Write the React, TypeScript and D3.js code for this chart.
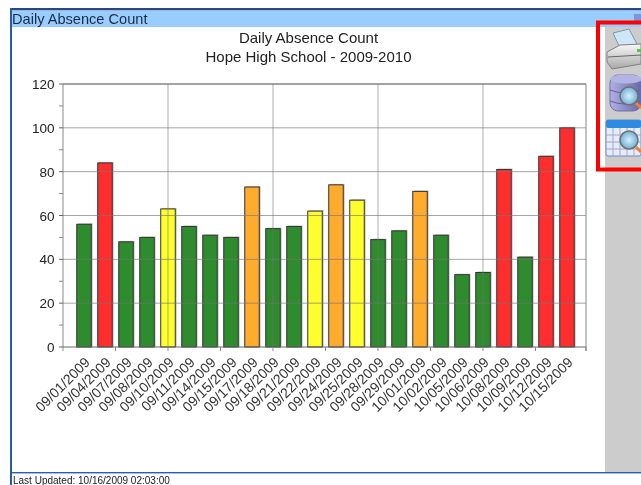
import React from "react";
import * as d3 from "d3";

const dates = ["09/01/2009","09/04/2009","09/07/2009","09/08/2009","09/10/2009","09/11/2009","09/14/2009","09/15/2009","09/17/2009","09/18/2009","09/21/2009","09/22/2009","09/24/2009","09/25/2009","09/28/2009","09/29/2009","10/01/2009","10/02/2009","10/05/2009","10/06/2009","10/08/2009","10/09/2009","10/12/2009","10/15/2009"];
const counts = [56,84,48,50,63,55,51,50,73,54,55,62,74,67,49,53,71,51,33,34,81,41,87,100];
const levels = ["g","r","g","g","y","g","g","g","o","g","g","y","o","y","g","g","o","g","g","g","r","g","r","r"];
const levelColor: Record<string,string> = { g:"#2e8b2e", r:"#ff2d2d", y:"#ffff2d", o:"#ffab2d" };
const windowTitle = "Daily Absence Count";
const chartTitle = ["Daily Absence Count","Hope High School - 2009-2010"];
const footer = "Last Updated: 10/16/2009 02:03:00";

const FONT = "'Liberation Sans', Arial, sans-serif";
const L = 63, R = 586, T = 84, B = 347;

export default function App() {
  const x = d3.scaleLinear().domain([0, 24.905]).range([L, R]);
  const y = d3.scaleLinear().domain([0, 120]).range([B, T]);
  const bw = 14.5;
  const xTicks = [...d3.range(0, 24, 2.5), 24.905];
  const xGrid = d3.range(5, 24, 5);
  const yTicks = d3.range(0, 121, 20);
  const yMinor = d3.range(10, 120, 20);
  return (
    <div style={{ position: "fixed", left: 0, top: 0, width: 641, height: 485, overflow: "hidden", background: "#fff" }}>
      <svg width={641} height={485} style={{ display: "block" }} fontFamily={FONT}>
        <defs>
          <filter id="soft" x="0" y="0" width="100%" height="100%"><feGaussianBlur stdDeviation="0.4" /></filter>
          <linearGradient id="prn" x1="0" y1="0" x2="0" y2="1">
            <stop offset="0" stopColor="#f8f8f8" /><stop offset="1" stopColor="#a8a8a8" />
          </linearGradient>
          <linearGradient id="db" x1="0" y1="0" x2="1" y2="0">
            <stop offset="0" stopColor="#b0b0e4" /><stop offset="1" stopColor="#6868a8" />
          </linearGradient>
          <radialGradient id="lens"><stop offset="0" stopColor="#d8f0fa" /><stop offset="1" stopColor="#6fb0d8" /></radialGradient>
        </defs>
        <rect width={641} height={485} fill="#fff" />
        <g filter="url(#soft)">
          {/* window frame */}
          <rect x={10} y={8} width={631} height={2.5} fill="#2c4a78" />
          <rect x={10} y={8} width={2} height={477} fill="#2c5aa8" />
          <rect x={12} y={10.5} width={629} height={16.5} fill="#99ccff" />
          <text x={12} y={24} fontSize={14.6} fill="#1c2c44">{windowTitle}</text>
          <rect x={605} y={27} width={36} height={445} fill="#cccccc" />
          <rect x={12} y={472} width={629} height={1.4} fill="#2c5cb8" />
          <text x={13} y={484} fontSize={10} fill="#222">{footer}</text>
          <rect x={634} y={14} width={7} height={7} fill="#7d96d8" />

          {/* titles */}
          <text x={308.5} y={42.5} textAnchor="middle" fontSize={15} fill="#222">{chartTitle[0]}</text>
          <text x={308.5} y={61.5} textAnchor="middle" fontSize={15} fill="#222">{chartTitle[1]}</text>

          {/* bars */}
          {counts.map((v, i) => (
            <g key={dates[i]}>
              <rect x={x(i + 1) - bw / 2 + 1.5} y={y(v) - 1} width={bw} height={B - y(v) + 1} fill="#c8c8c8" />
              <rect x={x(i + 1) - bw / 2} y={y(v)} width={bw} height={B - y(v)} fill={levelColor[levels[i]]} stroke="#333" strokeWidth={1} />
            </g>
          ))}

          {/* grid */}
          {yTicks.slice(1).map((t, i) => (
            <line key={t} x1={L} x2={R} y1={y(t)} y2={y(t)} stroke="#777" strokeOpacity={0.65} strokeWidth={1} />
          ))}
          {xGrid.map(t => (
            <line key={t} x1={x(t)} x2={x(t)} y1={T} y2={B} stroke="#777" strokeOpacity={0.6} strokeWidth={1} />
          ))}

          {/* axes */}
          <line x1={L} x2={L} y1={T} y2={B} stroke="#888" />
          <line x1={R} x2={R} y1={T} y2={B + 4} stroke="#888" />
          <line x1={L} x2={R} y1={T} y2={T} stroke="#777" />
          <line x1={L} x2={R} y1={B} y2={B} stroke="#666" />
          {yTicks.map(t => (
            <g key={t}>
              <line x1={L - 4} x2={L} y1={y(t)} y2={y(t)} stroke="#666" />
              <text x={54.5} y={y(t) + 5} textAnchor="end" fontSize={13.5} fill="#222">{t}</text>
            </g>
          ))}
          {yMinor.map(t => (
            <line key={t} x1={L - 4} x2={L} y1={y(t)} y2={y(t)} stroke="#888" />
          ))}
          {xTicks.map(t => (
            <line key={t} x1={x(t)} x2={x(t)} y1={B} y2={B + 4} stroke="#888" />
          ))}
          {dates.map((d, i) => (
            <text key={d} transform={`translate(${x(i + 1) + 1.5},${B + 11}) rotate(-45)`} textAnchor="end" dominantBaseline="hanging" fontSize={14} fill="#333" dy={-3}>{d}</text>
          ))}

          {/* toolbar icons */}
          <path d="M613 33 L629 29 L637 44 L620 48 Z" fill="#cfe6f6" stroke="#8098a8" />
          <path d="M607 52 L620 45 L641 44 L641 64 L612 69 L607 62 Z" fill="url(#prn)" stroke="#808080" />
          <rect x={637} y={49} width={4} height={3} fill="#5cc050" />
          <path d="M608 57 L641 55" stroke="#666" />
          <rect x={610} y={75} width={31} height={36} rx={8} fill="url(#db)" stroke="#7070a8" />
          <ellipse cx={626} cy={79} rx={16} ry={4.5} fill="#b4b4e4" />
          <path d="M610 90 Q625 96 641 90 M610 101 Q625 107 641 101" stroke="#6060a0" fill="none" />
          <circle cx={629} cy={96} r={9} fill="url(#lens)" stroke="#707070" strokeWidth={1.5} />
          <path d="M636 103 L641 108" stroke="#f08030" strokeWidth={3} />
          <rect x={606} y={120} width={35} height={36} rx={2} fill="#e8ecf8" stroke="#7088c8" />
          <rect x={606} y={120} width={35} height={8} rx={2} fill="#2f8ce0" />
          <path d="M606 135 H641 M606 142 H641 M606 149 H641 M613 128 V156 M620 128 V156 M627 128 V156 M634 128 V156" stroke="#a0a8d0" />
          <circle cx={629} cy={140} r={9} fill="url(#lens)" stroke="#707070" strokeWidth={1.5} />
          <path d="M636 147 L641 152" stroke="#f08030" strokeWidth={3} />
        </g>
        {/* red highlight */}
        <path d="M641 22.5 H598 V169.5 H641" fill="none" stroke="#ff0000" strokeWidth={4} />
      </svg>
    </div>
  );
}
